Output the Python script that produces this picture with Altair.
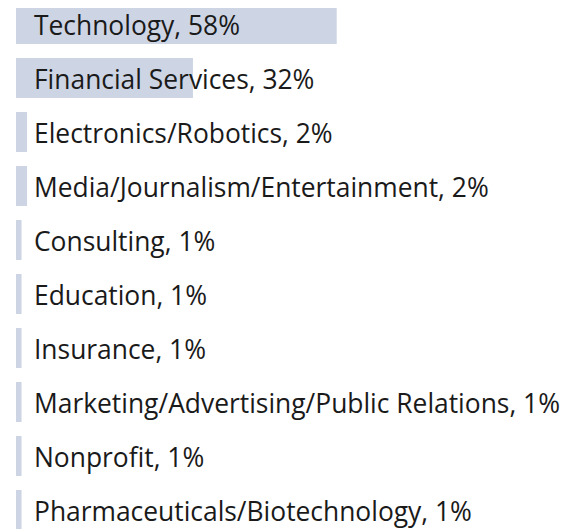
import altair as alt
import pandas as pd

categories = [
    "Technology",
    "Financial Services",
    "Electronics/Robotics",
    "Media/Journalism/Entertainment",
    "Consulting",
    "Education",
    "Insurance",
    "Marketing/Advertising/Public Relations",
    "Nonprofit",
    "Pharmaceuticals/Biotechnology",
]
values = [58, 32, 2, 2, 1, 1, 1, 1, 1, 1]

df = pd.DataFrame({"category": categories, "value": values})
df["label"] = [f"{c}, {v}%" for c, v in zip(categories, values)]

y_enc = alt.Y(
    "category:N",
    sort=categories,
    axis=None,
    scale=alt.Scale(range=[-11, 529], paddingInner=14 / 54, paddingOuter=7 / 54),
)

bars = alt.Chart(df).mark_bar(color="#cdd5e5").encode(
    x=alt.X("value:Q", axis=None, scale=alt.Scale(domain=[0, 100])),
    y=y_enc,
)

text = alt.Chart(df).mark_text(
    align="left",
    baseline="alphabetic",
    dy=11,
    fontSize=26.4,
    font="Open Sans",
    color="#1a1a1a",
).encode(
    x=alt.value(18),
    y=y_enc,
    text="label:N",
)

chart = (
    alt.layer(bars, text)
    .properties(
        width=553,
        height=521,
        autosize=alt.AutoSizeParams(type="none"),
        padding={"left": 8, "top": 0, "right": 0, "bottom": 0},
    )
    .configure_view(stroke=None)
)

chart.save("out.html", embed_options={"renderer": "svg", "actions": False})
